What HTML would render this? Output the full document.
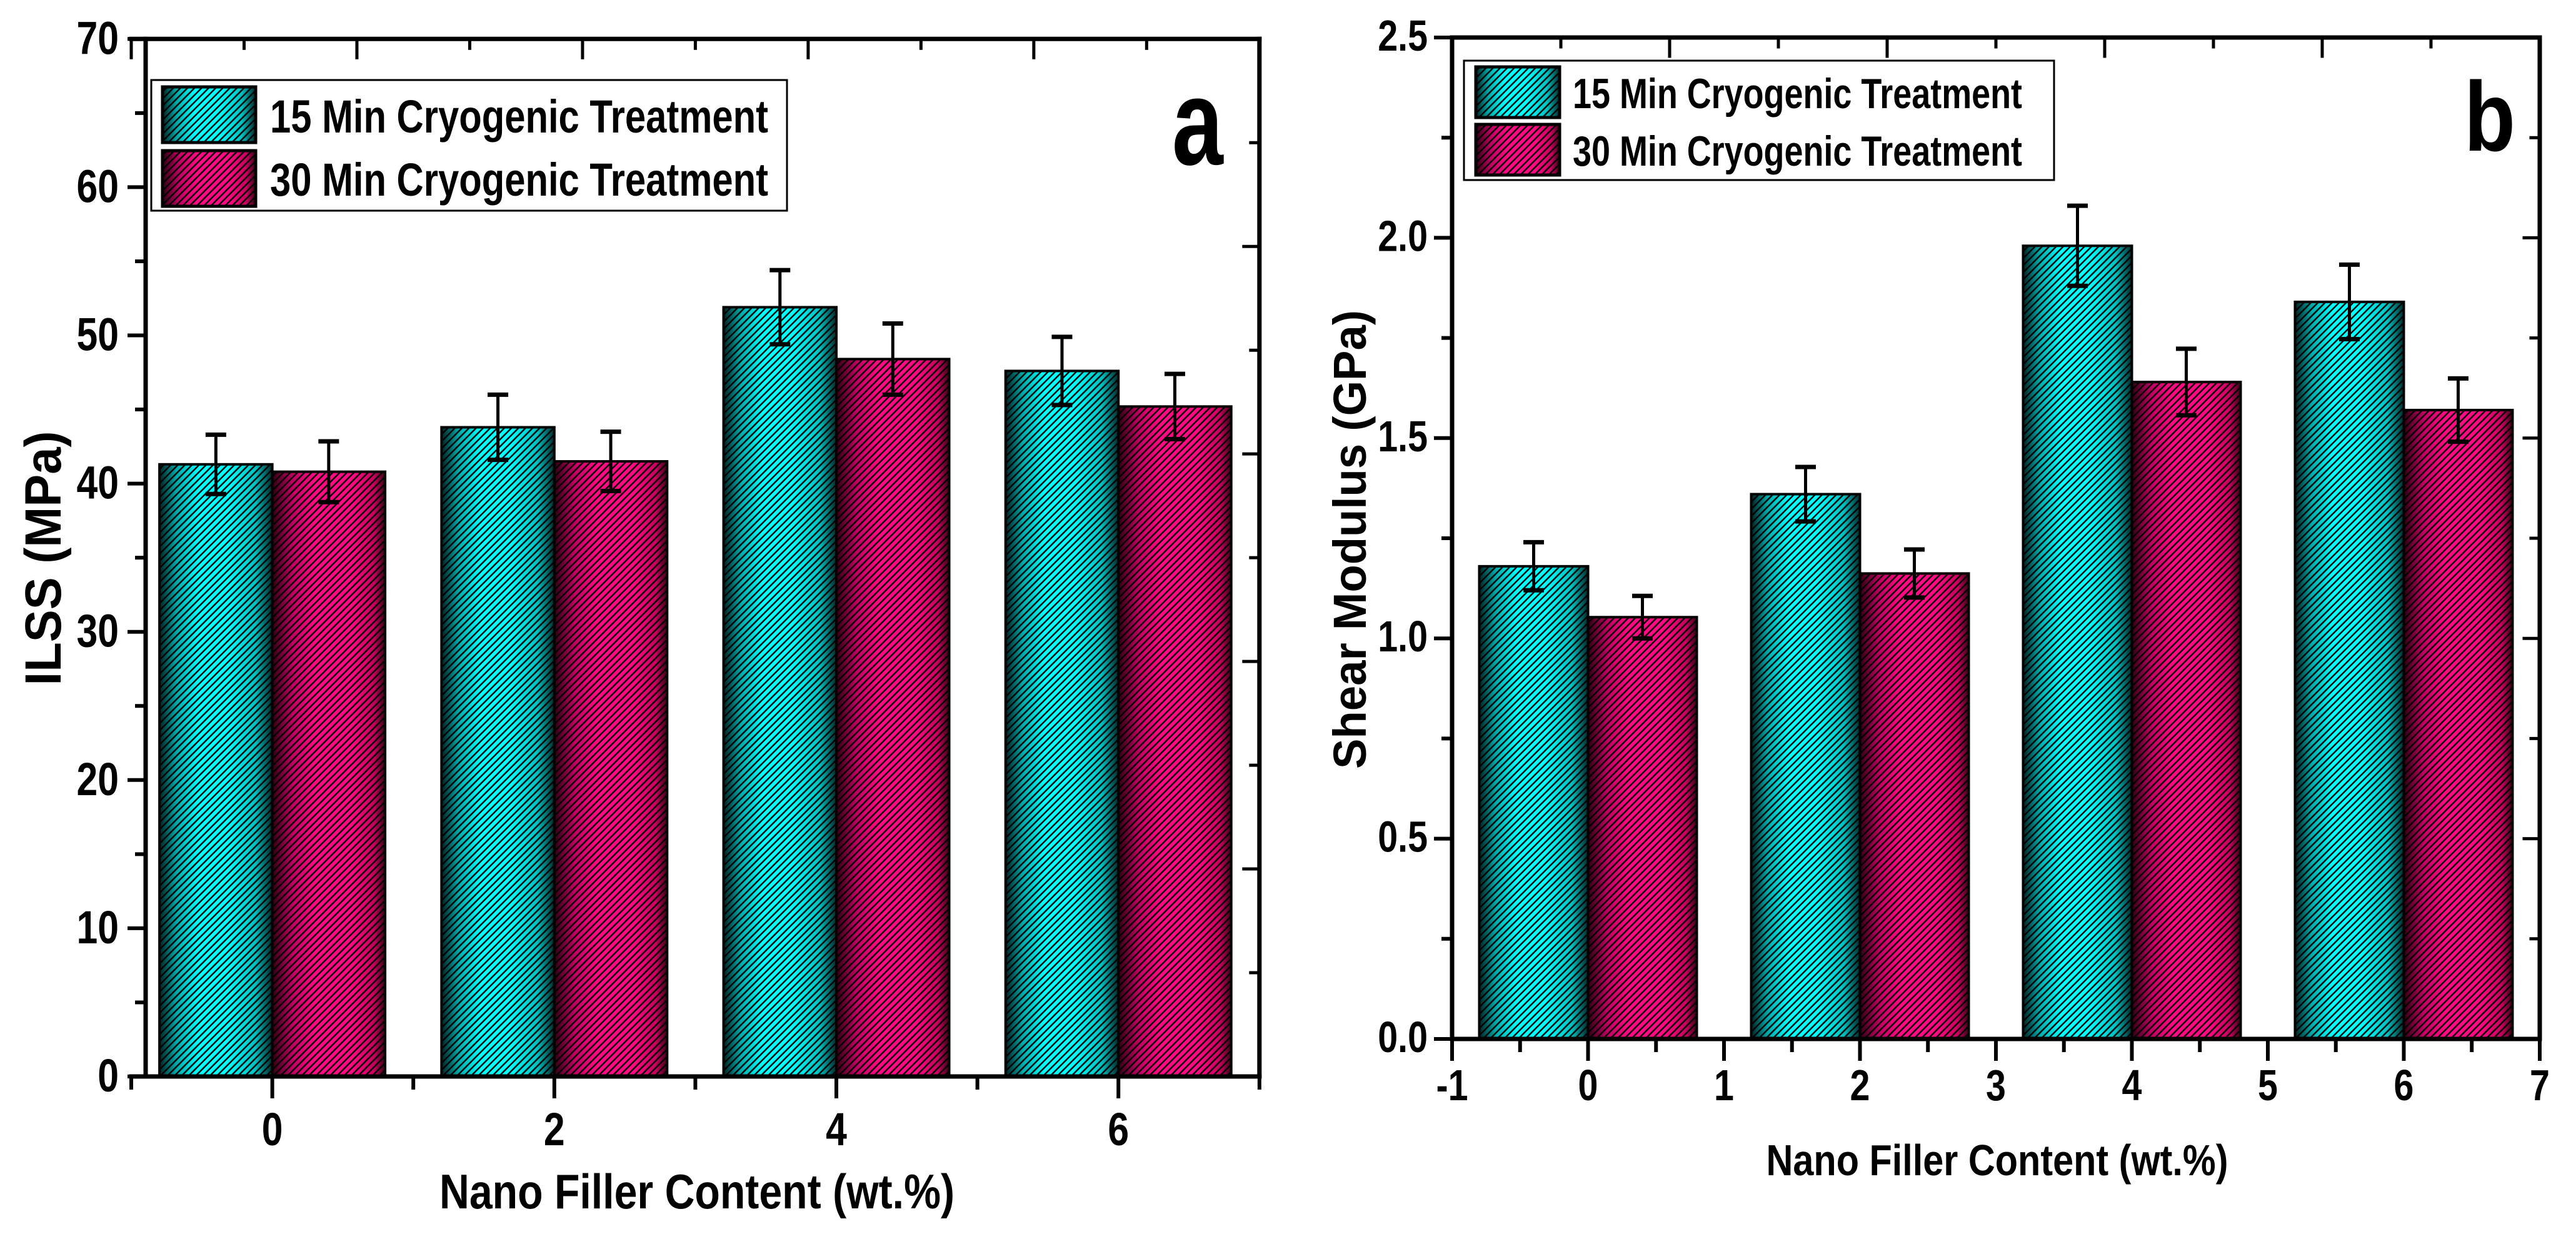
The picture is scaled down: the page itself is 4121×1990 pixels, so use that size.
<!DOCTYPE html>
<html><head><meta charset="utf-8"><style>
html,body{margin:0;padding:0;background:#fff;}
svg{display:block;}
text{font-family:"Liberation Sans",Arial,sans-serif;font-weight:bold;fill:#000;}
</style></head>
<body>
<svg id="chart" width="4121" height="1990" viewBox="0 0 4121 1990" xmlns="http://www.w3.org/2000/svg">
<defs>
<linearGradient id="gCyan" x1="0" x2="1" y1="0" y2="0">
<stop offset="0" stop-color="#002222"/><stop offset="0.15" stop-color="#00a8a8"/><stop offset="0.35" stop-color="#00ffff"/><stop offset="0.6" stop-color="#00ffff"/><stop offset="0.85" stop-color="#00c0c0"/><stop offset="1" stop-color="#002a2a"/>
</linearGradient>
<linearGradient id="gPink" x1="0" x2="1" y1="0" y2="0">
<stop offset="0" stop-color="#300012"/><stop offset="0.18" stop-color="#c00062"/><stop offset="0.38" stop-color="#ff0a84"/><stop offset="0.7" stop-color="#ff0a84"/><stop offset="0.9" stop-color="#c8005e"/><stop offset="1" stop-color="#3a0016"/>
</linearGradient>
<pattern id="hatch" patternUnits="userSpaceOnUse" width="11.3" height="11.3">
<path d="M-2,13.3 L13.3,-2 M-2,2 L2,-2 M9.3,13.3 L13.3,9.3" stroke="#000" stroke-width="2.4"/>
</pattern>
</defs>
<g id="panelA"></g>
<g id="panelB"></g>
</svg>
<script>
// ---- Panel a data ----
const catsA = [0, 2, 4, 6];
const ilss15 = [41.3, 43.8, 51.9, 47.6];
const ilss30 = [40.8, 41.5, 48.4, 45.2];
const ilssErr15 = [2.0, 2.2, 2.5, 2.3];
const ilssErr30 = [2.05, 2.0, 2.4, 2.2];
const yTicksA = [0, 10, 20, 30, 40, 50, 60, 70];
const xTicksA = [0, 2, 4, 6];
// ---- Panel b data ----
const catsB = [0, 2, 4, 6];
const shear15 = [1.18, 1.36, 1.98, 1.84];
const shear30 = [1.053, 1.162, 1.64, 1.57];
const shearErr15 = [0.06, 0.068, 0.1, 0.093];
const shearErr30 = [0.053, 0.06, 0.083, 0.079];
const yTicksB = ["0.0", "0.5", "1.0", "1.5", "2.0", "2.5"];
const xTicksB = [-1, 0, 1, 2, 3, 4, 5, 6, 7];
const seriesNames = ["15 Min Cryogenic Treatment", "30 Min Cryogenic Treatment"];

const NS = "http://www.w3.org/2000/svg";
function el(tag, attrs, parent) {
  const e = document.createElementNS(NS, tag);
  for (const k in attrs) e.setAttribute(k, attrs[k]);
  parent.appendChild(e);
  return e;
}
function txt(parent, s, x, y, size, anchor, sx, name) {
  const t = el("text", {transform: "translate(" + x + "," + y + ") scale(" + sx + ",1)", "font-size": size, "text-anchor": anchor}, parent);
  t.textContent = s;
  
  
  return t;
}
function line(parent, x1, y1, x2, y2, w, name) {
  const l = el("line", {x1: x1, y1: y1, x2: x2, y2: y2, stroke: "#000", "stroke-width": w, "stroke-linecap": "square"}, parent);
  
  
  return l;
}

function drawPanel(g, cfg) {
  const xs = v => cfg.x0 + (v - cfg.xmin) * cfg.xu;
  const ys = v => cfg.y0 - v * cfg.yu;
  const sets = [[cfg.s1, cfg.e1, "gCyan", -0.8, "bar-15min"], [cfg.s2, cfg.e2, "gPink", 0, "bar-30min"]];
  sets.forEach(([vals, errs, grad, off, nm]) => {
    vals.forEach((v, i) => {
      const c = cfg.cats[i];
      const x = xs(c + off), w = 0.8 * cfg.xu, y = ys(v), h = cfg.y0 - y;
      const r1 = el("rect", {x: x, y: y, width: w, height: h, fill: "url(#" + grad + ")"}, g);
      
      
      const r2 = el("rect", {x: x, y: y, width: w, height: h, fill: "url(#hatch)", stroke: "#000", "stroke-width": 4}, g);
      
      
    });
  });
  sets.forEach(([vals, errs, grad, off, nm]) => {
    vals.forEach((v, i) => {
      const cx = xs(cfg.cats[i] + off + 0.4);
      const yt = ys(v + errs[i]), yb = ys(v - errs[i]);
      line(g, cx, yt, cx, yb, 5, 'error-bar');
      line(g, cx - 13, yt, cx + 13, yt, 7, 'error-cap-top');
      line(g, cx - 13, yb, cx + 13, yb, 7, 'error-cap-bottom');
    });
  });
  const xR = xs(cfg.xmax), yT = ys(cfg.ymax);
  line(g, cfg.yAxisX, cfg.y0, cfg.yAxisX, yT, 7, 'y-axis-line');
  line(g, xs(cfg.xmin), cfg.y0, xR, cfg.y0, 7, 'x-axis-line');
  line(g, xs(cfg.xmin), yT, xR, yT, 7, 'top-axis-line');
  line(g, xR, cfg.y0, xR, yT, 7, 'right-axis-line');
  for (let k = 0; k <= 10; k++) {
    const tx = xs(cfg.xmin) + k * (xR - xs(cfg.xmin)) / 10;
    line(g, tx, yT, tx, yT + (k % 2 ? 15 : 30), 5, 'top-tick');
    const ty = yT + k * (cfg.y0 - yT) / 10;
    line(g, xR, ty, xR - (k % 2 ? 14 : 25), ty, 5, 'right-tick');
  }
  cfg.yTicks.forEach((lab, i) => {
    const v = parseFloat(lab), y = ys(v);
    line(g, cfg.yAxisX - 26, y, cfg.yAxisX, y, 6, 'y-tick');
    txt(g, String(lab), cfg.yLabX, y + cfg.yLabDy, cfg.tickFs, "end", 0.82, 'y-tick-label');
    if (i < cfg.yTicks.length - 1) {
      const ym = ys(v + cfg.yMinor);
      line(g, cfg.yAxisX - 14, ym, cfg.yAxisX, ym, 6, 'y-minor-tick');
    }
  });
  cfg.xMinorVals.forEach(v => line(g, xs(v), cfg.y0, xs(v), cfg.y0 + 18, 6, 'x-minor-tick'));
  cfg.xTicks.forEach(v => {
    line(g, xs(v), cfg.y0, xs(v), cfg.y0 + 32, 6, 'x-tick');
    txt(g, String(v), xs(v), cfg.xLabY, cfg.tickFs, "middle", 0.82, 'x-tick-label');
  });
  const yt = el("text", {x: 0, y: 0, "font-size": cfg.yTitleFs, "text-anchor": "middle", textLength: cfg.yTitleLen, lengthAdjust: "spacingAndGlyphs", transform: "translate(" + cfg.yTitleX + "," + cfg.yTitleY + ") rotate(-90)"}, g);
  yt.textContent = cfg.yTitle;
  
  
  const xt = el("text", {x: cfg.xTitleX, y: cfg.xTitleY, "font-size": cfg.xTitleFs, "text-anchor": "middle", textLength: cfg.xTitleLen, lengthAdjust: "spacingAndGlyphs"}, g);
  xt.textContent = "Nano Filler Content (wt.%)";
  
  
  txt(g, cfg.letter, cfg.letX, cfg.letY, cfg.letFs, "start", cfg.letSx, 'panel-label');
  const L = cfg.leg;
  const lg = el("g", {}, g);
  
  
  const box = el("rect", {x: L.x, y: L.y, width: L.w, height: L.h, fill: "#fff", stroke: "#000", "stroke-width": 3}, lg);
  
  
  ["gCyan", "gPink"].forEach((gr, i) => {
    const sy = L.sy[i];
    const a = el("rect", {x: L.sx, y: sy, width: L.sw, height: L.sh, fill: "url(#" + gr + ")"}, lg);
    
    
    const b = el("rect", {x: L.sx, y: sy, width: L.sw, height: L.sh, fill: "url(#hatch)", stroke: "#000", "stroke-width": 5}, lg);
    
    
    const t = el("text", {x: L.tx, y: L.ty[i], "font-size": L.fs, textLength: L.tl, lengthAdjust: "spacingAndGlyphs"}, lg);
    t.textContent = seriesNames[i];
    
    
  });
}

drawPanel(document.getElementById("panelA"), {
  cats: catsA, s1: ilss15, s2: ilss30, e1: ilssErr15, e2: ilssErr30,
  xmin: -1, xmax: 7, x0: 210, xu: 225.6, y0: 1722, yu: 23.71, ymax: 70, yAxisX: 233,
  yTicks: yTicksA, yMinor: 5, yLabX: 190, yLabDy: 24, tickFs: 74,
  xTicks: xTicksA, xMinorVals: [-1, 1, 3, 5, 7], xLabY: 1832,
  yTitle: "ILSS (MPa)", yTitleX: 97, yTitleY: 893, yTitleFs: 82, yTitleLen: 407,
  xTitleX: 1115, xTitleY: 1933, xTitleFs: 78, xTitleLen: 824,
  letter: "a", letX: 1875, letY: 263, letFs: 196, letSx: 0.75,
  leg: {x: 242, y: 128, w: 1017, h: 209, sx: 260, sw: 149, sh: 89, sy: [139, 241], tx: 432, ty: [212, 313], fs: 74, tl: 797}
});
drawPanel(document.getElementById("panelB"), {
  cats: catsB, s1: shear15, s2: shear30, e1: shearErr15, e2: shearErr30,
  xmin: -1, xmax: 7, x0: 2323, xu: 217.5, y0: 1662, yu: 640.8, ymax: 2.5, yAxisX: 2323,
  yTicks: yTicksB, yMinor: 0.25, yLabX: 2284, yLabDy: 21, tickFs: 70,
  xTicks: xTicksB, xMinorVals: [-0.5, 0.5, 1.5, 2.5, 3.5, 4.5, 5.5, 6.5], xLabY: 1760,
  yTitle: "Shear Modulus (GPa)", yTitleX: 2185, yTitleY: 863, yTitleFs: 74, yTitleLen: 734,
  xTitleX: 3195, xTitleY: 1880, xTitleFs: 70, xTitleLen: 739,
  letter: "b", letX: 3942, letY: 241, letFs: 158, letSx: 0.85,
  leg: {x: 2342, y: 97, w: 944, h: 191, sx: 2361, sw: 134, sh: 81, sy: [107, 199], tx: 2516, ty: [173, 265], fs: 68, tl: 719}
});
</script>
</body></html>
